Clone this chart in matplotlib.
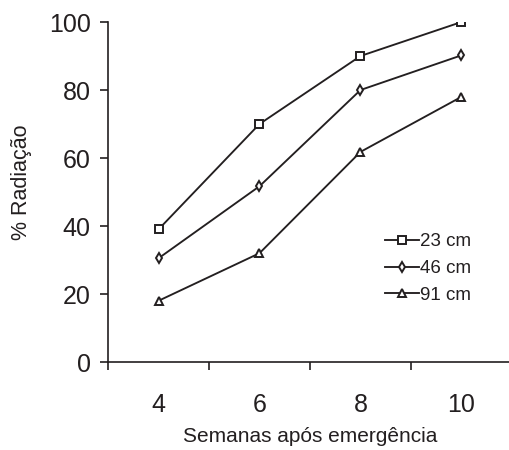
import matplotlib
matplotlib.use('Agg')
import matplotlib.pyplot as plt

plt.rcParams['font.family'] = ['Liberation Sans', 'DejaVu Sans']

semanas = [4, 6, 8, 10]
cm23 = [39, 70, 90, 100]
cm46 = [30.5, 51.7, 80, 90.2]
cm91 = [18, 32, 61.8, 78]
rotulos = ['23 cm', '46 cm', '91 cm']

cor = '#231f20'

fig = plt.figure(figsize=(5.1, 4.5), dpi=100)
ax = fig.add_axes([108/510, 1 - 362/450, 404/510, 340/450])

kw = dict(color=cor, lw=1.35, mfc='white', mec=cor, mew=1.4)
ax.plot(semanas, cm23, marker='s', ms=6, label=rotulos[0], **kw)
ax.plot(semanas, cm46, marker='d', ms=5.5, label=rotulos[1], **kw)
ax.plot(semanas, cm91, marker='^', ms=6, label=rotulos[2], **kw)

ax.set_xlim(3, 11)
ax.set_ylim(0, 100)
ax.set_yticks([0, 20, 40, 60, 80, 100])
ax.set_xticks([3, 5, 7, 9, 11])
ax.set_xticklabels([])
ax.set_xticks(semanas, minor=True)
ax.set_xticklabels([str(s) for s in semanas], minor=True)

for s in ['top', 'right']:
    ax.spines[s].set_visible(False)
for s in ['left', 'bottom']:
    ax.spines[s].set_linewidth(1.2)
    ax.spines[s].set_color(cor)

ax.tick_params(axis='y', direction='out', length=5.5, width=1.2, color=cor,
               labelsize=18, labelcolor=cor, pad=7)
ax.tick_params(axis='x', which='major', direction='out', length=5.5, width=1.2, color=cor)
ax.tick_params(axis='x', which='minor', length=0, labelsize=18, labelcolor=cor, pad=22)

ax.set_xlabel('Semanas após emergência', fontsize=15, color=cor)
ax.xaxis.set_label_coords(0.5, -0.19)
fig.text(22/510, 1 - 182/450, '% Radiação', rotation=90, ha='center', va='center',
         fontsize=15.5, color=cor)

ax.legend(loc='upper left', bbox_to_anchor=(0.686, 0.379), frameon=False,
          fontsize=13.5, handlelength=1.8, handletextpad=0.05, borderpad=0,
          borderaxespad=0, labelspacing=0.52, labelcolor=cor)

fig.savefig('out.png', dpi=100)
